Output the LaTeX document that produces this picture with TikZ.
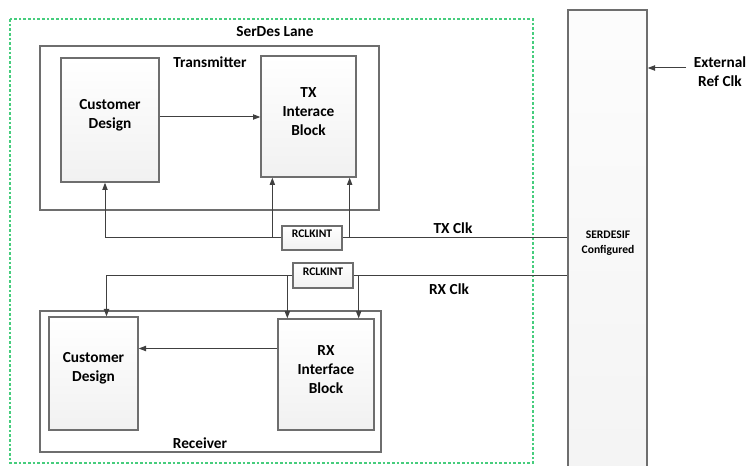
\documentclass[tikz,border=0pt]{standalone}
\usepackage{fontspec}
\setmainfont{Carlito}
\usepackage{xcolor}
\usetikzlibrary{fit,calc,arrows.meta}
\definecolor{boxgray}{RGB}{110,110,110}
\definecolor{wiregray}{RGB}{64,64,64}
\definecolor{lanegreen}{RGB}{70,205,125}

\begin{document}
\begin{tikzpicture}[x=0.75pt,y=0.75pt,yscale=-1,xscale=1,
  block/.style={draw=boxgray,line width=1pt,top color=white,bottom color=gray!11,inner sep=0pt,align=center,font=\fontsize{11.5}{14}\selectfont\bfseries},
  rclk/.style={block,font=\fontsize{8.7}{10}\selectfont\bfseries},
  container/.style={draw=boxgray,line width=1pt},
  wire/.style={draw=wiregray,line width=0.75pt},
  arr/.style={wire,-{Triangle[length=5.5pt,width=4pt]}},
  lbl/.style={inner sep=0.75pt,align=center,font=\fontsize{11.5}{14}\selectfont\bfseries},
  smalllbl/.style={lbl,font=\fontsize{8.7}{11}\selectfont\bfseries}]
\clip (0,0) rectangle (747,466);

%Lane and the two containers
\draw[lanegreen,line width=0.9pt,dash pattern=on 2pt off 1.5pt] (10,19) rectangle (533,463);
\draw[container] (40,46) rectangle (379,210);
\draw[container] (40,311) rectangle (381,452);

%Blocks
\node[block,fit={(61,58) (159,182)}] (txcd) {Customer\\Design};
\node[block,fit={(261,56) (356,177)}] (txif) {TX\\Interace\\Block};
\node[rclk,fit={(282,226) (342,250)}] (txrclk) {RCLKINT};
\node[rclk,fit={(293,263) (353,288)}] (rxrclk) {RCLKINT};
\node[block,fit={(49,317) (138,430)}] (rxcd) {Customer\\Design};
\node[block,fit={(278,319) (374,430)}] (rxif) {RX\\Interface\\Block};
\node[block,top color=gray!2,bottom color=gray!9,fit={(568,10) (647,480)}] (serdes) {};

% Text Nodes
\node[lbl] (lanelbl) at (275,32) {SerDes Lane};
\node[lbl] (txlbl) at (210,62) {Transmitter};
\node[lbl] (rxlbl) at (200,443) {Receiver};
\node[lbl] (txclklbl) at (453,228) {TX Clk};
\node[lbl] (rxclklbl) at (449,289) {RX Clk};
\node[lbl] (extlbl) at (720,72) {External\\Ref Clk};
\node[smalllbl] (serdeslbl) at (608,243) {SERDESIF\\Configured};

%Data arrows
\draw[arr] ($(txcd.east)+(0,-3)$) coordinate (txd) -- (txd -| txif.west);
\draw[arr] ($(rxif.west)+(0,-26)$) coordinate (rxd) -- (rxd -| rxcd.east);

%TX clock
\draw[wire] (serdes.west |- txrclk.east) -- (txrclk.east);
\draw[arr] (txrclk.east) -| ($(txif.south east)+(-7,0)$);
\draw[arr] (txrclk.west) -| ($(txif.south west)+(12,0)$);
\draw[arr] (txrclk.west) -| ($(txcd.south)+(-5,0)$);

%RX clock
\draw[wire] (serdes.west |- rxrclk.east) -- (rxrclk.east);
\draw[arr] (rxrclk.east) -| ($(rxif.north east)+(-16,0)$);
\draw[arr] (rxrclk.west) -| ($(rxif.north west)+(10,0)$);
\draw[arr] (rxrclk.west) -| ($(rxcd.north)+(13,0)$);

%Reference clock
\coordinate (extsrc) at (686,68);
\draw[arr] (extsrc) -- (extsrc -| serdes.east);
\end{tikzpicture}
\end{document}
